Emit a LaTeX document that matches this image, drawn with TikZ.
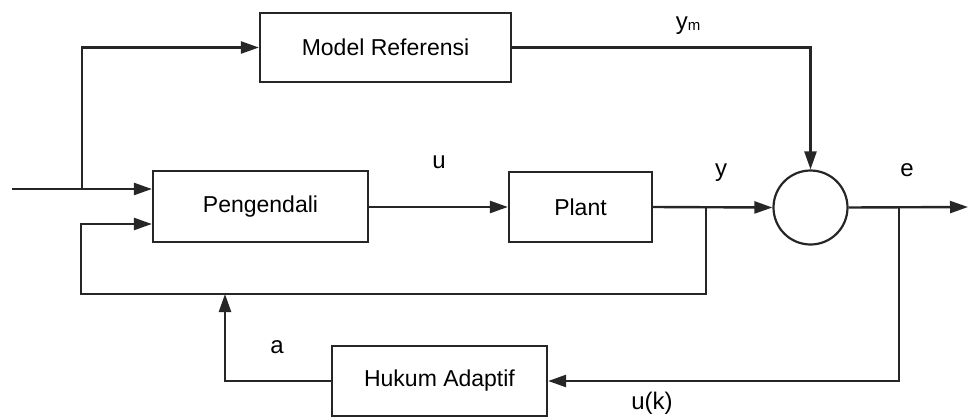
\documentclass[tikz,border=0pt]{standalone}
\usepackage{fontspec}
\setmainfont{Liberation Sans}
\usetikzlibrary{arrows.meta}
\begin{document}
\begin{tikzpicture}[x=1pt,y=-1pt,
  wire/.style={line width=2.4pt,draw=black!85},
  arr/.style={wire,-{Triangle[length=18pt,width=12pt]}},
  blockbox/.style={draw=black!85,line width=2.2pt,rectangle,inner sep=0pt,font=\fontsize{23}{26}\selectfont},
  sig/.style={font=\fontsize{24}{27}\selectfont,inner sep=0pt}]
\useasboundingbox (0,0) rectangle (969,418);

% blocks
\node[blockbox,minimum width=251pt,minimum height=69pt] (mref) at (385.5,47.5) {Model Referensi};
\node[blockbox,minimum width=215pt,minimum height=71pt] (peng) at (260.5,206.5) {Pengendali};
\node[blockbox,minimum width=143pt,minimum height=70pt] (plant) at (580.5,207) {Plant};
\node[draw=black!85,line width=2.2pt,circle,minimum size=74pt,inner sep=0pt] (sum) at (810.5,207.5) {};
\node[blockbox,minimum width=215pt,minimum height=70pt] (hukum) at (439.5,381) {Hukum Adaptif};

% junction points and free ends
\coordinate (in) at (12,189);
\coordinate (br) at (82,189);
\coordinate (ybr) at (706,207);
\coordinate (fbl) at (81,294);
\coordinate (fbin) at (81,224);
\coordinate (ebr) at (899,207);
\coordinate (out) at (968,207);
\coordinate (acol) at (225,294);

% reference input and branch to the reference model
\draw[arr] (in) -- (peng.west |- in);
\draw[arr] (br) |- (mref.west);

% forward path
\draw[arr] (peng.east |- plant) -- (plant.west);
\draw[arr] (plant.east) -- (sum.west);
\draw[arr] (mref.east) -| (sum.north);
\draw[arr] (sum.east) -- (out);

% plant output fed back to the controller
\draw[arr] (ybr) |- (fbl) -- (fbin) -- (peng.west |- fbin);

% adaptation loop
\draw[arr] (ebr) |- (hukum.east);
\draw[arr] (hukum.west) -| (acol);

% signal labels
\node[sig] (lu) at (439,162) {u};
\node[sig] (ly) at (721,173) {y};
\node[sig] (le) at (907,170) {e};
\node[sig] (lym) at (688,26) {y\raisebox{-1pt}{\fontsize{15}{17}\selectfont m}};
\node[sig] (la) at (277,347) {a};
\node[sig] (luk) at (652,403) {u(k)};
\end{tikzpicture}
\end{document}
